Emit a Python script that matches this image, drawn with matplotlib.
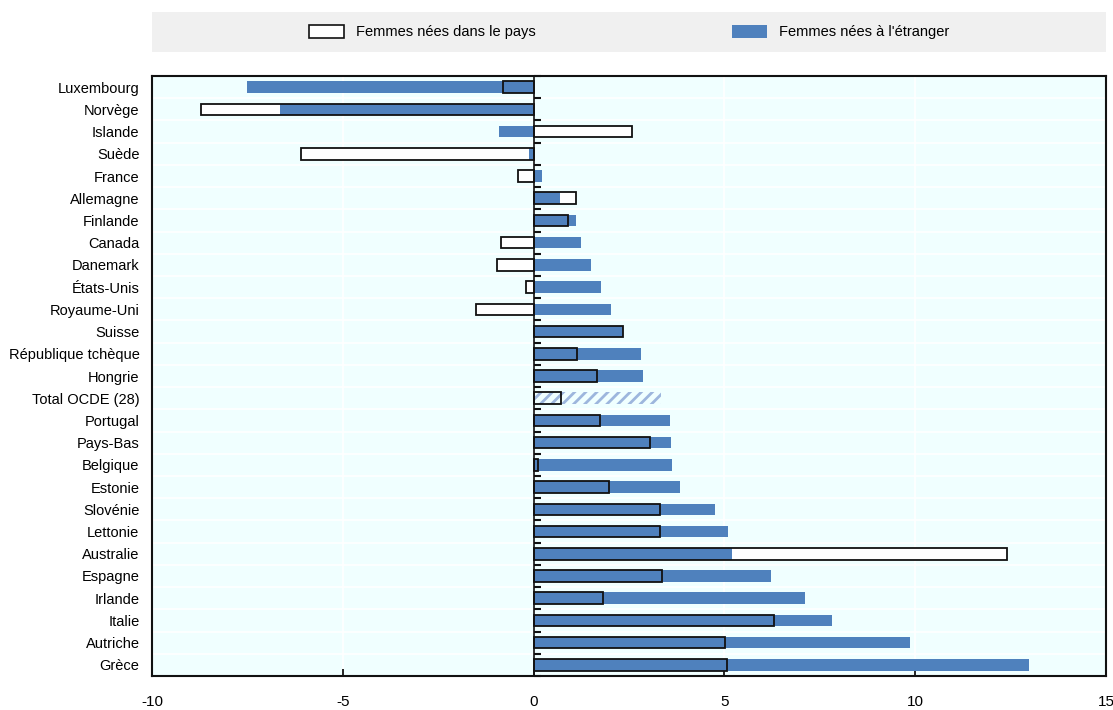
import matplotlib
matplotlib.use('Agg')
import matplotlib.pyplot as plt
import numpy as np
from matplotlib.patches import Patch

plt.rcParams['font.family'] = ['Liberation Sans', 'DejaVu Sans']
plt.rcParams['hatch.linewidth'] = 2.0

# Data, top to bottom as in the chart
countries = [
    'Luxembourg', 'Norvège', 'Islande', 'Suède', 'France', 'Allemagne', 'Finlande',
    'Canada', 'Danemark', 'États-Unis', 'Royaume-Uni', 'Suisse', 'République tchèque',
    'Hongrie', 'Total OCDE (28)', 'Portugal', 'Pays-Bas', 'Belgique', 'Estonie',
    'Slovénie', 'Lettonie', 'Australie', 'Espagne', 'Irlande', 'Italie', 'Autriche', 'Grèce',
]
native_born = [
    -0.81, -8.72, 2.59, -6.10, -0.42, 1.10, 0.91, -0.86, -0.96, -0.20, -1.52, 2.34, 1.14,
    1.65, 0.73, 1.75, 3.04, 0.11, 1.98, 3.31, 3.31, 12.41, 3.37, 1.83, 6.29, 5.02, 5.08,
]
foreign_born = [
    -7.51, -6.64, -0.90, -0.11, 0.23, 0.70, 1.12, 1.25, 1.50, 1.76, 2.04, 2.33, 2.82,
    2.86, 3.33, 3.58, 3.60, 3.62, 3.83, 4.76, 5.10, 5.19, 6.22, 7.11, 7.83, 9.86, 12.99,
]
total_label = 'Total OCDE (28)'

BLUE = '#4F81BD'
HATCH_BLUE = '#9DB6DD'
BG = '#F0FFFF'

fig = plt.figure(figsize=(11.13, 7.10), dpi=100)
ax = fig.add_axes([152 / 1113, 1 - 676 / 710, (1106 - 152) / 1113, (676 - 76) / 710])
ax.set_facecolor(BG)

y = np.arange(len(countries))
h = 0.52
is_total = np.array([c == total_label for c in countries])

nat = np.array(native_born)
fb = np.array(foreign_born)
# white native bars underneath
ax.barh(y[~is_total], nat[~is_total], height=h, color='white', edgecolor='none', zorder=2)
# blue foreign-born bars (hatched for the OECD total)
ax.barh(y[~is_total], fb[~is_total], height=h, color=BLUE, edgecolor='none', zorder=3)
ax.barh(y[is_total], fb[is_total], height=h, color='none', edgecolor=HATCH_BLUE,
        hatch='///', linewidth=0, zorder=3)
# black outline of native bars on top
ax.barh(y, nat, height=h, color='none', edgecolor='#111111', linewidth=1.3, zorder=4)

ax.set_xlim(-10, 15)
ax.set_ylim(len(countries) - 0.5, -0.5)
ax.set_yticks(y)
ax.set_yticklabels(countries, fontsize=10.5)
ax.tick_params(axis='y', which='both', length=0, pad=9)
ax.set_xticks([-10, -5, 0, 5, 10, 15])
ax.set_xticklabels(['-10', '-5', '0', '5', '10', '15'], fontsize=11)
ax.tick_params(axis='x', direction='in', length=5, width=1.2, pad=14)

# white grid lines
bounds = np.arange(len(countries) + 1) - 0.5
ax.set_yticks(bounds, minor=True)
ax.grid(axis='y', which='minor', color='white', linewidth=1.2, zorder=0)
ax.grid(axis='x', which='major', color='white', linewidth=1.2, zorder=0)
ax.set_axisbelow(True)

for s in ax.spines.values():
    s.set_linewidth(1.5)
    s.set_color('#111111')

# zero line with small category ticks
ax.axvline(0, color='#111111', linewidth=1.2, zorder=5)
ax.plot(np.zeros(len(bounds)), bounds, linestyle='none', marker=1, markersize=5,
        markeredgewidth=1.5, color='#111111', zorder=6, clip_on=False)

# legend band
band = fig.add_axes([152 / 1113, 1 - 52 / 710, (1106 - 152) / 1113, 40 / 710])
band.set_facecolor('#F0F0F0')
band.set_xticks([])
band.set_yticks([])
for s in band.spines.values():
    s.set_visible(False)
handles = [
    Patch(facecolor='white', edgecolor='#111111', linewidth=1.2, label='Femmes nées dans le pays'),
    Patch(facecolor=BLUE, edgecolor='none', label="Femmes nées à l'étranger"),
]
band.legend(handles=handles, loc='center', ncol=2, frameon=False, fontsize=10.5,
            handlelength=2.4, handleheight=1.0, columnspacing=13.5, handletextpad=0.8)

fig.savefig('out.png', dpi=100, facecolor='white')
